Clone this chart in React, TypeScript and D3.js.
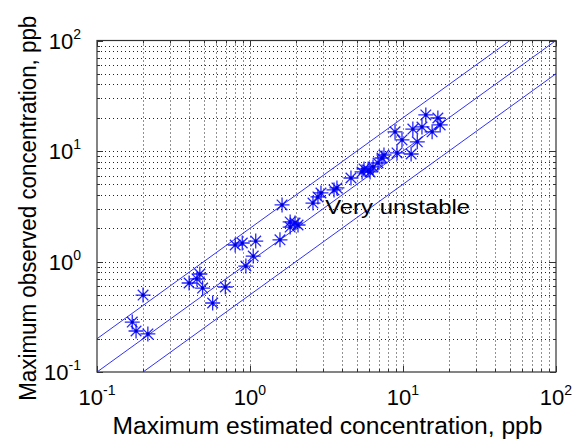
import * as d3 from 'd3'
import { useEffect, useRef } from 'react'

// max estimated vs max observed concentration, ppb
const estimated = [0.17, 0.18, 0.215, 0.2, 0.4, 0.45, 0.47, 0.49, 0.57, 0.69,
    0.8, 0.89, 1.09, 0.94, 1.05, 1.62, 1.57, 1.83, 1.97, 1.83,
    2.06, 2.58, 2.78, 2.91, 3.54, 3.7, 4.57, 5.4, 5.56, 5.91,
    6.09, 6.37, 6.87, 7.51, 7.29, 9.14, 11.3, 8.87, 9.85, 11.6,
    12.4, 13.3, 14.1, 15.5, 16.9, 17.5]
const observed = [0.283, 0.235, 0.221, 0.497, 0.639, 0.695, 0.771, 0.575, 0.421, 0.588,
    1.41, 1.47, 1.53, 0.91, 1.12, 3.25, 1.57, 2.28, 2.23, 2.05,
    2.14, 3.38, 3.84, 4.17, 4.44, 4.63, 5.7, 6.46, 6.88, 6.73,
    6.46, 7.17, 7.79, 9.2, 8.64, 9.6, 9.39, 14.9, 12.6, 15.8,
    12.1, 16.5, 21.2, 14.9, 19.9, 17.2]

// factor-of-two band lines: y = f * x
const factors = [0.5, 1, 2]
const decades = [0.1, 1, 10, 100]
const exponents = ['-1', '0', '1', '2']

const annotation = { text: 'Very unstable', x: 3.1, y: 3.1 }

const W = 578
const H = 442
const left = 97, right = 556, top = 40.5, bottom = 372
const font = '"Liberation Sans", Arial, Helvetica, sans-serif'

export default function App() {
    const svgRef = useRef(null) as any

    useEffect(() => {
        const svg = d3.select(svgRef.current)
        svg.selectAll('*').remove()

        const xScale = d3.scaleLog().domain([0.1, 100]).range([left, right])
        const yScale = d3.scaleLog().domain([0.1, 100]).range([bottom, top])

        const ticks = xScale.ticks()

        svg.append('rect')
            .attr('width', W).attr('height', H).attr('fill', '#fff')

        svg.append('defs').append('clipPath').attr('id', 'plotclip')
            .append('rect')
            .attr('x', left).attr('y', top)
            .attr('width', right - left).attr('height', bottom - top)

        // dotted grid
        const grid = svg.append('g')
            .attr('stroke', '#222')
            .attr('stroke-width', 1)
            .attr('stroke-dasharray', '1,3')
        grid.selectAll('.vg')
            .data(ticks.filter(t => t > 0.1 && t < 100))
            .join('line')
            .attr('x1', d => Math.round(xScale(d)) + 0.5)
            .attr('x2', d => Math.round(xScale(d)) + 0.5)
            .attr('y1', top).attr('y2', bottom)
        grid.selectAll('.hg')
            .data(yScale.ticks().filter(t => t > 0.1 && t < 100))
            .join('line')
            .attr('y1', d => Math.round(yScale(d)) + 0.5)
            .attr('y2', d => Math.round(yScale(d)) + 0.5)
            .attr('x1', left).attr('x2', right)

        // inward ticks on all four sides
        const tk = svg.append('g').attr('stroke', '#333').attr('stroke-width', 1)
        const len = (d: number) => (decades.includes(d) ? 6 : 3)
        ticks.forEach(d => {
            const x = Math.round(xScale(d)) + 0.5
            tk.append('line').attr('x1', x).attr('x2', x).attr('y1', bottom).attr('y2', bottom - len(d))
            tk.append('line').attr('x1', x).attr('x2', x).attr('y1', top).attr('y2', top + len(d))
        })
        yScale.ticks().forEach(d => {
            const y = Math.round(yScale(d)) + 0.5
            tk.append('line').attr('y1', y).attr('y2', y).attr('x1', left).attr('x2', left + len(d))
            tk.append('line').attr('y1', y).attr('y2', y).attr('x1', right).attr('x2', right - len(d))
        })

        // ratio lines
        const line = d3.line<number>()
            .x(d => xScale(d[0]))
            .y(d => yScale(d[1]))
        svg.append('g')
            .attr('clip-path', 'url(#plotclip)')
            .selectAll('path')
            .data(factors)
            .join('path')
            .attr('d', f => line([[0.1, 0.1 * f], [100, 100 * f]] as any))
            .attr('fill', 'none')
            .attr('stroke', '#3030ff')
            .attr('stroke-width', 1)

        // asterisk markers
        const r = 7.5, q = 5.3
        const star = `M${-r},0H${r}M0,${-r}V${r}M${-q},${-q}L${q},${q}M${-q},${q}L${q},${-q}`
        const pts = svg.append('g').attr('clip-path', 'url(#plotclip)')
        estimated.forEach((xv, i) => {
            const g = pts.append('g')
                .attr('transform', `translate(${xScale(xv)},${yScale(observed[i])})`)
            g.append('path')
                .attr('d', star)
                .attr('fill', 'none')
                .attr('stroke', '#0000ff')
                .attr('stroke-width', 1.3)
                .attr('stroke-opacity', 0.85)
            g.append('circle').attr('r', 1.6).attr('fill', '#0000cc')
        })

        // frame
        svg.append('rect')
            .attr('x', left).attr('y', top)
            .attr('width', right - left).attr('height', bottom - top)
            .attr('fill', 'none')
            .attr('stroke', '#333')
            .attr('stroke-width', 1.2)

        // tick labels
        const xl = svg.append('g')
            .attr('font-family', font).attr('font-size', 22).attr('fill', '#000')
        decades.forEach((d, i) => {
            const t = xl.append('text')
                .attr('x', xScale(d)).attr('y', 405)
                .attr('text-anchor', 'middle')
            t.append('tspan').text('10')
            t.append('tspan').attr('dy', -10).attr('font-size', 14).text(exponents[i])
        })
        decades.forEach((d, i) => {
            const t = xl.append('text')
                .attr('x', 81).attr('y', yScale(d) + 8)
                .attr('text-anchor', 'end')
            t.append('tspan').text('10')
            t.append('tspan').attr('dy', -10).attr('font-size', 14).text(exponents[i])
        })

        // axis titles
        svg.append('text')
            .attr('x', (left + right) / 2 + 1).attr('y', 434)
            .attr('text-anchor', 'middle')
            .attr('font-family', font).attr('font-size', 23)
            .attr('textLength', 430).attr('lengthAdjust', 'spacingAndGlyphs')
            .text('Maximum estimated concentration, ppb')
        svg.append('text')
            .attr('transform', `translate(36,${(top + bottom) / 2 + 2}) rotate(-90)`)
            .attr('text-anchor', 'middle')
            .attr('font-family', font).attr('font-size', 23)
            .attr('textLength', 385).attr('lengthAdjust', 'spacingAndGlyphs')
            .text('Maximum observed concentration, ppb')

        // annotation
        svg.append('text')
            .attr('x', xScale(annotation.x)).attr('y', yScale(annotation.y) + 7)
            .attr('font-family', font).attr('font-size', 20)
            .attr('textLength', 145).attr('lengthAdjust', 'spacingAndGlyphs')
            .text(annotation.text)
    }, [])

    return (
        <svg ref={svgRef} width={W} height={H}
            style={{ position: 'absolute', left: 0, top: 0, display: 'block' }} />
    )
}
